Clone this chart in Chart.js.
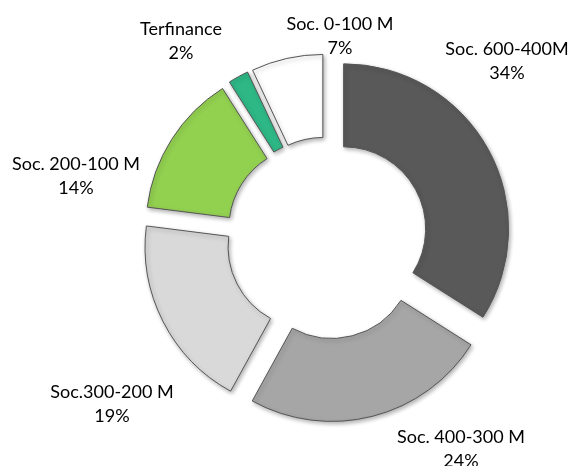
<!DOCTYPE html>
<html>
<head>
<meta charset="utf-8">
<script src="https://cdn.jsdelivr.net/npm/chart.js@4"></script>
<style>
  html, body { margin: 0; padding: 0; background: #fff; }
  #wrap { width: 572px; height: 466px; }
</style>
</head>
<body>
<div id="wrap"><canvas id="myChart" width="572" height="466"></canvas></div>
<script>
// segments, clockwise from 12 o'clock
const categories = ["Soc. 600-400M", "Soc. 400-300 M", "Soc.300-200 M", "Soc. 200-100 M", "Terfinance", "Soc. 0-100 M"];
const shares = [34, 24, 19, 14, 2, 7];

const colors = ["#595959", "#a6a6a6", "#d9d9d9", "#92d050", "#2eb886", "#ffffff"];
// where each two-line label sits (centre x, baseline of first line)
const labelAnchors = [[507, 55], [461, 443], [112, 398], [76, 170], [181, 35], [340, 30]];

const EXPLODE = 19; // px each slice is pulled out along its mid angle

// draw each arc pulled out from the centre, with a soft drop shadow
const explodePlugin = {
  id: "explode",
  beforeDatasetDraw(chart, args) {
    const ctx = chart.ctx;
    args.meta.data.forEach((arc) => {
      const mid = (arc.startAngle + arc.endAngle) / 2;
      ctx.save();
      ctx.translate(Math.cos(mid) * EXPLODE, Math.sin(mid) * EXPLODE);
      ctx.shadowColor = "rgba(0, 0, 0, 0.3)";
      ctx.shadowBlur = 4;
      ctx.shadowOffsetX = 1.5;
      ctx.shadowOffsetY = 2;
      arc.draw(ctx);
      ctx.restore();
    });
    return false;
  },
};

const labelPlugin = {
  id: "sliceLabels",
  afterDraw(chart) {
    const ctx = chart.ctx;
    const total = shares.reduce((a, b) => a + b, 0);
    ctx.save();
    ctx.font = "18px Lato";
    ctx.fillStyle = "#000";
    ctx.textAlign = "center";
    ctx.textBaseline = "alphabetic";
    categories.forEach((name, i) => {
      const [x, y] = labelAnchors[i];
      ctx.fillText(name, x, y);
      ctx.fillText(Math.round((shares[i] / total) * 100) + "%", x, y + 24);
    });
    ctx.restore();
  },
};

const ctx = document.getElementById("myChart").getContext("2d");
new Chart(ctx, {
  type: "doughnut",
  data: {
    labels: categories,
    datasets: [
      {
        data: shares,
        backgroundColor: colors,
        borderColor: "#555555",
        borderWidth: 1,
        borderJoinStyle: "miter",
        clip: false,
      },
    ],
  },
  options: {
    responsive: false,
    animation: false,
    radius: 165,
    cutout: "49.7%",
    layout: { padding: { left: 82, right: 0, top: 10, bottom: 0 } },
    plugins: {
      legend: { display: false },
      tooltip: { enabled: false },
    },
  },
  plugins: [explodePlugin, labelPlugin],
});
</script>
</body>
</html>
